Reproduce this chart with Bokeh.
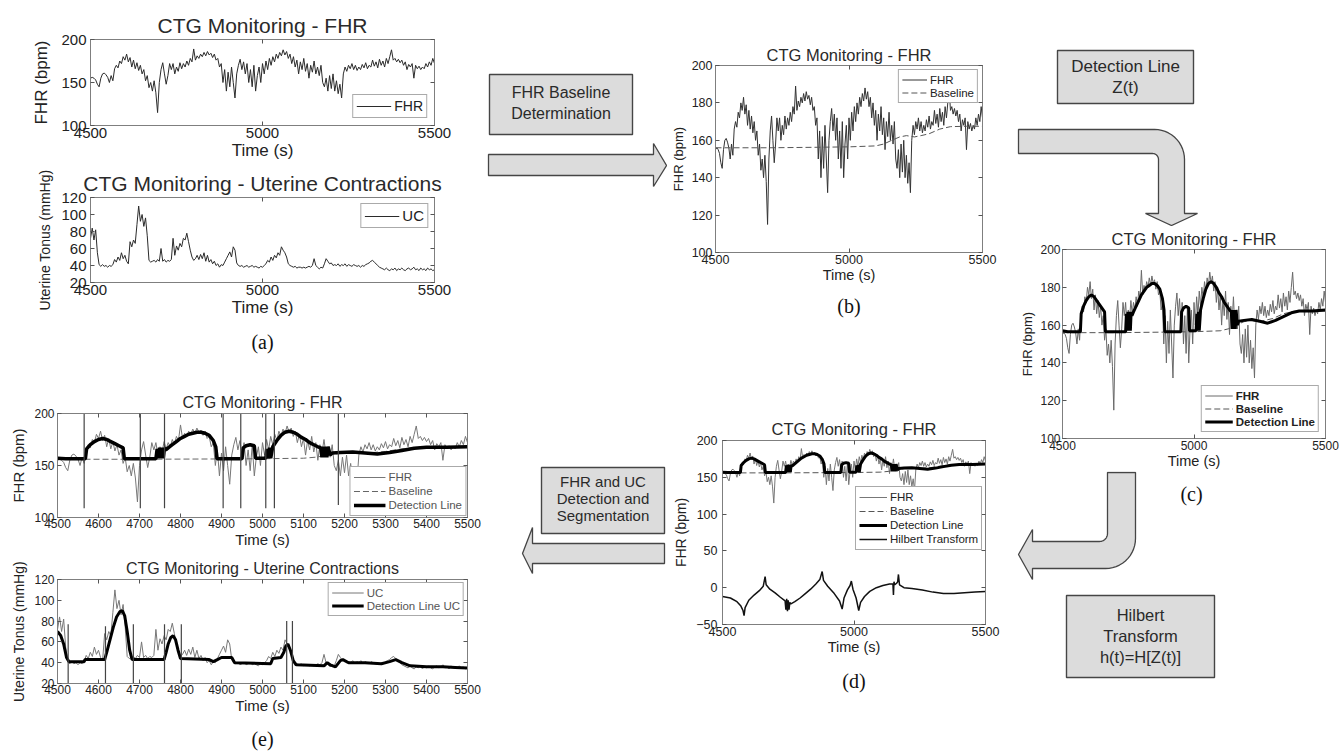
import numpy as np
from bokeh.plotting import figure
from bokeh.models import Range1d, FixedTicker, LinearAxis, Title
from bokeh.layouts import row, column
from bokeh.embed import file_html
from bokeh.resources import INLINE
from bokeh.core.properties import value

FONT = "Liberation Sans"
SERIF = "Liberation Serif"
INK = "#222222"
FRAME = "#7f7f7f"

# ---------------- data ----------------
time_s = list(range(4500, 5501, 5))
fhr_bpm = [
    155, 156, 155, 153, 148, 145, 155, 160, 161, 159,
    156, 150, 158, 152, 166, 170, 167, 175, 172, 180,
    176, 183, 174, 179, 168, 176, 166, 173, 164, 170,
    160, 165, 152, 158, 144, 150, 140, 152, 138, 115,
    150, 165, 173, 160, 148, 158, 172, 165, 172, 160,
    168, 163, 173, 166, 172, 168, 175, 170, 178, 174,
    189, 176, 181, 178, 183, 180, 185, 181, 186, 182,
    184, 179, 183, 176, 178, 168, 172, 150, 165, 140,
    162, 145, 168, 150, 132, 160, 170, 177, 165, 174,
    160, 172, 150, 165, 145, 170, 140, 158, 168, 150,
    172, 160, 175, 165, 178, 170, 180, 174, 183, 178,
    185, 181, 188, 182, 186, 178, 183, 172, 180, 168,
    176, 160, 174, 165, 178, 163, 172, 155, 170, 162,
    175, 160, 168, 158, 170, 150, 145, 155, 140, 158,
    143, 160, 140, 152, 137, 148, 132, 160, 168, 163,
    170, 166, 172, 165, 170, 164, 168, 165, 171, 167,
    173, 166, 170, 168, 176, 169, 174, 167, 177, 170,
    175, 168, 178, 172, 180, 188, 176, 178, 174, 177,
    173, 176, 170, 174, 165, 171, 168, 172, 155, 170,
    166, 169, 165, 168, 166, 172, 168, 174, 170, 178,
    172]
uc_mmhg = [
    72, 84, 70, 82, 55, 41, 39, 41, 39, 40,
    38, 40, 39, 41, 47, 44, 50, 46, 55, 48,
    52, 45, 42, 68, 62, 70, 66, 88, 110, 92,
    100, 86, 96, 75, 46, 44, 45, 46, 44, 47,
    45, 60, 45, 47, 44, 46, 45, 47, 72, 52,
    63, 58, 66, 62, 72, 70, 78, 68, 58, 50,
    46, 48, 52, 47, 53, 48, 55, 45, 52, 44,
    47, 42, 45, 40, 42, 38, 41, 40, 44, 48,
    52, 56, 50, 62, 58, 43, 40, 39, 40, 38,
    39, 40, 38, 39, 40, 38, 39, 38, 37, 39,
    38, 40, 42, 46, 44, 50, 46, 52, 49, 55,
    52, 62, 58, 55, 50, 42, 40, 39, 38, 39,
    37, 38, 38, 37, 38, 37, 38, 39, 38, 40,
    48, 40, 38, 36, 38, 37, 42, 48, 45, 42,
    43, 40, 41, 40, 42, 39, 41, 40, 42, 39,
    41, 40, 39, 41, 40, 39, 40, 38, 40, 39,
    41, 42, 43, 45, 46, 44, 42, 40, 38, 37,
    36, 35, 37, 35, 34, 36, 35, 37, 34, 36,
    35, 37, 35, 34, 36, 37, 35, 36, 38, 35,
    36, 34, 37, 35, 36, 34, 37, 35, 36, 34,
    35]
baseline_t = [4500, 4700, 4900, 5000, 5100, 5130, 5160, 5190, 5215, 5245, 5270, 5300, 5340, 5380, 5440, 5500]
baseline_bpm = [156, 156, 156.3, 156.5, 157, 158, 160, 161.8, 162.5, 161.8, 162.5, 163.5, 166, 167.3, 167.5, 167.5]
det_t = [4500, 4520, 4568, 4571, 4580, 4590, 4600, 4610, 4620, 4630,
         4640, 4650, 4660, 4663, 4740, 4743, 4746, 4749, 4752, 4755,
         4758, 4761, 4764, 4770, 4780, 4790, 4800, 4810, 4820, 4830,
         4840, 4850, 4860, 4870, 4880, 4886, 4889, 4950, 4953, 4960,
         4970, 4980, 4983, 5008, 5011, 5014, 5017, 5020, 5025, 5035,
         5045, 5055, 5065, 5075, 5085, 5095, 5105, 5115, 5125, 5135,
         5142, 5145, 5148, 5151, 5154, 5157, 5160, 5165, 5170, 5190,
         5220, 5250, 5280, 5310, 5340, 5370, 5400, 5450, 5500]
det_bpm = [157, 156.5, 156.5, 166, 170, 173, 175, 176, 175, 173,
           171, 169, 167, 156.5, 156.5, 166, 157, 167, 157, 167,
           157, 167, 165, 167, 170, 173, 176, 178, 180, 181,
           182, 182, 181, 179, 174, 168, 156.5, 156.5, 167, 169,
           170, 169, 157, 157, 166, 157, 167, 157, 168, 174,
           179, 182, 183, 182, 180, 177, 175, 172, 170, 168,
           167, 158, 168, 158, 168, 158, 168, 160, 162, 162.5,
           163, 162, 161, 162.5, 164.5, 166.5, 167.5, 167.5, 168]
hil_t = [4500, 4530, 4555, 4570, 4578, 4582, 4586, 4600, 4620, 4640,
         4655, 4662, 4666, 4680, 4700, 4720, 4738, 4741, 4744, 4747,
         4750, 4753, 4756, 4760, 4775, 4795, 4815, 4835, 4855, 4870,
         4879, 4884, 4900, 4925, 4945, 4955, 4962, 4975, 4985, 4990,
         4996, 5008, 5018, 5025, 5040, 5060, 5085, 5110, 5135, 5148,
         5150, 5152, 5155, 5162, 5166, 5169, 5173, 5190, 5220, 5260,
         5300, 5340, 5380, 5420, 5460, 5500]
hil_val = [-12, -14, -19, -25, -31, -38, -27, -17, -10, -4,
           2, 15, 4, -2, -7, -13, -18, -30, -15, -32,
           -17, -30, -20, -22, -19, -14, -8, -2, 5, 11,
           22, 10, 2, -8, -18, -29, -14, -3, 3, 9,
           -2, -14, -31, -20, -12, -5, 0, 3, 5, 5,
           -10, 8, 4, 6, 8, 18, 4, 0, -1, -3,
           -6, -8, -8, -7, -6, -5]
det_uc_t = [4500, 4508, 4515, 4522, 4528, 4565, 4567, 4615, 4620, 4628,
            4636, 4644, 4652, 4658, 4664, 4670, 4676, 4682, 4760, 4765,
            4770, 4776, 4782, 4788, 4794, 4800, 4870, 4880, 4890, 4900,
            4925, 4932, 5020, 5025, 5045, 5052, 5057, 5062, 5068, 5075,
            5082, 5150, 5158, 5165, 5178, 5190, 5196, 5210, 5250, 5290,
            5310, 5325, 5340, 5360, 5400, 5440, 5470, 5500]
det_uc = [70, 66, 58, 45, 41, 41, 43, 43, 50, 62,
          74, 84, 89, 90, 85, 70, 52, 43, 43, 50,
          58, 64, 66, 62, 52, 44, 43, 41, 43, 45,
          45, 40, 39, 44, 45, 50, 56, 58, 52, 42,
          38, 37, 40, 38, 36, 42, 43, 40, 40, 39,
          41, 43, 40, 37, 36, 36, 35.5, 35]
seg_fhr_t = [4565, 4702, 4761, 4904, 4947, 5008, 5029, 5185]
seg_fhr_lo = [109, 109, 109, 109, 109, 109, 109, 112]
seg_fhr_hi = [200, 200, 200, 200, 200, 200, 200, 200]
seg_uc_t = [4526, 4617, 4685, 4761, 4802, 5059, 5073]
seg_uc_lo = [20, 20, 20, 20, 20, 20, 20]
seg_uc_hi = [77, 75, 77, 77, 77, 80, 80]

ticks_coarse = [4500, 5000, 5500]
ticks_fine = [4500, 4600, 4700, 4800, 4900, 5000, 5100, 5200, 5300, 5400, 5500]
fhr_ticks_a = [100, 150, 200]
fhr_ticks_b = [100, 120, 140, 160, 180, 200]
fhr_ticks_d = [-50, 0, 50, 100, 150, 200]
uc_ticks = [20, 40, 60, 80, 100, 120]


# ---------------- helpers ----------------
def style_axis(ax, ticks, size, standoff, label, lsize, lstand):
    ax.ticker = FixedTicker(ticks=ticks)
    ax.major_tick_in = 4
    ax.major_tick_out = 0
    ax.major_tick_line_color = "#555555"
    ax.minor_tick_line_color = None
    ax.axis_line_color = FRAME
    ax.major_label_text_font = FONT
    ax.major_label_text_font_size = size
    ax.major_label_text_color = INK
    ax.major_label_standoff = standoff
    ax.axis_label = label
    ax.axis_label_text_font = FONT
    ax.axis_label_text_font_size = lsize
    ax.axis_label_text_font_style = "normal"
    ax.axis_label_text_color = INK
    ax.axis_label_standoff = lstand


def panel(box, frame, yr, xticks, yticks, title, tsize, tstand,
          ksize, xks, xlsize, xls, yks, ylabel, ylsize, yls,
          caption=None, cstand=0):
    ox, oy, w, h = box
    fl, fr, ft, fb = frame
    p = figure(frame_width=fr - fl, frame_height=fb - ft,
               min_border_left=fl - ox, min_border_right=ox + w - fr,
               min_border_top=ft - oy, min_border_bottom=oy + h - fb,
               x_range=Range1d(4500, 5500), y_range=Range1d(*yr),
               toolbar_location=None, output_backend="svg", title=title,
               background_fill_color="white", border_fill_color="white",
               frame_align=False)
    p.title.align = "center"
    p.title.text_font = FONT
    p.title.text_font_size = tsize
    p.title.text_font_style = "normal"
    p.title.text_color = "#2a2a2a"
    p.title.standoff = tstand
    p.xgrid.visible = False
    p.ygrid.visible = False
    p.outline_line_color = FRAME
    style_axis(p.xaxis[0], xticks, ksize, xks, "Time (s)", xlsize, xls)
    style_axis(p.yaxis[0], yticks, ksize, yks, ylabel, ylsize, yls)
    for loc, ticks in (("above", xticks), ("right", yticks)):
        ax = LinearAxis(ticker=FixedTicker(ticks=ticks),
                        major_label_text_font_size="1px",
                        major_label_text_color=None,
                        major_tick_in=4, major_tick_out=0,
                        major_label_standoff=0,
                        minor_tick_line_color=None,
                        axis_line_color=FRAME,
                        major_tick_line_color="#555555")
        p.add_layout(ax, loc)
    if caption:
        cap = Title(text=caption, align="center", text_font=SERIF,
                    text_font_size="20px", text_font_style="normal",
                    text_color="#111111", standoff=cstand)
        p.add_layout(cap, "below")
    return p


def style_legend(p, loc, size, gw, gh, margin=5, pad=3, bold=False,
                 color=INK, spacing=0):
    lg = p.legend[0]
    lg.location = loc
    lg.label_text_font = FONT
    lg.label_text_font_size = size
    lg.label_text_font_style = "bold" if bold else "normal"
    lg.label_text_color = color
    lg.glyph_width = gw
    lg.glyph_height = gh
    lg.label_height = gh
    lg.label_standoff = 3
    lg.padding = pad
    lg.spacing = spacing
    lg.margin = margin
    lg.border_line_color = "#555555"
    lg.border_line_width = 1
    lg.background_fill_color = "white"
    lg.background_fill_alpha = 1.0


def canvas(x0, x1, y0, y1):
    p = figure(frame_width=x1 - x0, frame_height=y1 - y0,
               x_range=Range1d(x0, x1), y_range=Range1d(y1, y0),
               x_axis_location=None, y_axis_location=None,
               min_border=0, toolbar_location=None, output_backend="svg",
               background_fill_color="white", border_fill_color="white",
               frame_align=False)
    p.min_border_left = p.min_border_right = 0
    p.min_border_top = p.min_border_bottom = 0
    p.xgrid.visible = False
    p.ygrid.visible = False
    p.outline_line_color = None
    return p


def arc(cx, cy, r, a0, a1, n=14):
    a = np.radians(np.linspace(a0, a1, n))
    return list(cx + r * np.cos(a)), list(cy + r * np.sin(a))


ARROW_FILL = "#dcdcdc"
ARROW_LINE = "#454545"


def box_with_text(p, l, r, t, b, lines, ys, size):
    p.quad(left=[l], right=[r], top=[t], bottom=[b], fill_color=ARROW_FILL,
           line_color=ARROW_LINE, line_width=1.4)
    cx = (l + r) / 2
    p.text(x=[cx] * len(lines), y=ys, text=lines, text_align="center",
           text_baseline="middle", text_font=value(FONT),
           text_font_size=size, text_color="#2a2a2a")


# ---------------- panel (a) ----------------
a1 = panel((0, 0, 474, 163), (90, 434, 39, 125), (100, 200), ticks_coarse,
           fhr_ticks_a, "CTG Monitoring - FHR", "21px", 6,
           "15px", 2, "17px", 0, 4, "FHR (bpm)", "17px", 7)
a1.line(time_s, fhr_bpm, line_color="#2b2b2b", line_width=1, legend_label="FHR")
style_legend(a1, "bottom_right", "14px", 35, 16, margin=7)

a2 = panel((0, 163, 474, 199), (90, 434, 197, 282), (20, 120), ticks_coarse,
           uc_ticks, "CTG Monitoring - Uterine Contractions", "21px", 6,
           "15px", 2, "17px", 0, 4, "Uterine Tonus (mmHg)", "14px", 5,
           caption="(a)", cstand=19)
a2.line(time_s, uc_mmhg, line_color="#2b2b2b", line_width=1, legend_label="UC")
style_legend(a2, "top_right", "15px", 35, 16, margin=6)

# ---------------- panel (e) ----------------
e1 = panel((0, 362, 486, 193), (57, 467, 413, 517), (100, 200), ticks_fine,
           fhr_ticks_a, "CTG Monitoring - FHR", "16px", 6,
           "12px", 1, "15px", 0, 3, "FHR (bpm)", "15px", 4)
e1.line(time_s, fhr_bpm, line_color="#777777", line_width=1, legend_label="FHR")
e1.line(baseline_t, baseline_bpm, line_color="#666666", line_width=1,
        line_dash="6 3", legend_label="Baseline")
e1.line(det_t, det_bpm, line_color="black", line_width=3.5,
        legend_label="Detection Line")
e1.segment(x0=seg_fhr_t, y0=seg_fhr_lo, x1=seg_fhr_t, y1=seg_fhr_hi,
           line_color="#444444", line_width=1.2)
style_legend(e1, "bottom_right", "11.5px", 32, 14, margin=1, color="#555555")

e2 = panel((0, 555, 486, 201), (57, 467, 578, 682), (20, 120), ticks_fine,
           uc_ticks, "CTG Monitoring - Uterine Contractions", "16px", 5,
           "12px", 1, "15px", 0, 3, "Uterine Tonus (mmHg)", "14px", 4,
           caption="(e)", cstand=19)
e2.line(time_s, uc_mmhg, line_color="#777777", line_width=1, legend_label="UC")
e2.line(det_uc_t, det_uc, line_color="black", line_width=3,
        legend_label="Detection Line UC")
e2.segment(x0=seg_uc_t, y0=seg_uc_lo, x1=seg_uc_t, y1=seg_uc_hi,
           line_color="#444444", line_width=1.2)
style_legend(e2, "top_right", "11.5px", 32, 13, margin=3, color="#555555")

# ---------------- panel (b) ----------------
fb = panel((667, 0, 333, 330), (710, 977, 65, 252), (100, 200), ticks_coarse,
           fhr_ticks_b, "CTG Monitoring - FHR", "16.5px", 4,
           "12.5px", 2, "14.5px", 0, 3, "FHR (bpm)", "13px", 3,
           caption="(b)", cstand=15)
fb.line(time_s, fhr_bpm, line_color="#333333", line_width=1, legend_label="FHR")
fb.line(baseline_t, baseline_bpm, line_color="#555555", line_width=1,
        line_dash="6 3", legend_label="Baseline")
style_legend(fb, "top_right", "11.5px", 25, 13, margin=4)

# ---------------- panel (d) ----------------
fd = panel((670, 330, 330, 426), (718, 981, 440, 624), (-50, 200), ticks_coarse,
           fhr_ticks_d, "CTG Monitoring - FHR", "16.5px", 5,
           "12.5px", 2, "14.5px", 0, 5, "FHR (bpm)", "14px", 4,
           caption="(d)", cstand=20)
fd.line(time_s, fhr_bpm, line_color="#777777", line_width=1, legend_label="FHR")
fd.line(baseline_t, baseline_bpm, line_color="#555555", line_width=1,
        line_dash="6 3", legend_label="Baseline")
fd.line(det_t, det_bpm, line_color="black", line_width=3,
        legend_label="Detection Line")
fd.line(hil_t, hil_val, line_color="#111111", line_width=1.5,
        legend_label="Hilbert Transform")
style_legend(fd, (133, 74), "11.5px", 28, 14, margin=0)

# ---------------- panel (c) ----------------
fc = panel((1000, 226, 341, 244), (1057, 1320, 248, 437), (100, 200), ticks_coarse,
           fhr_ticks_b, "CTG Monitoring - FHR", "16.5px", 3,
           "12px", 2, "14.5px", 0, 2, "FHR (bpm)", "13px", 2)
fc.line(time_s, fhr_bpm, line_color="#6a6a6a", line_width=1, legend_label="FHR")
fc.line(baseline_t, baseline_bpm, line_color="#555555", line_width=1,
        line_dash="6 3", legend_label="Baseline")
fc.line(det_t, det_bpm, line_color="black", line_width=3,
        legend_label="Detection Line")
style_legend(fc, "bottom_right", "11.5px", 28, 13, margin=6, bold=True)

# ---------------- arrows and step boxes ----------------
cv1 = canvas(486, 667, 0, 330)
box_with_text(cv1, 489, 632, 74, 134, ["FHR Baseline", "Determination"],
              [92, 113], "16px")
cv1.patch([488, 653, 653, 666, 653, 653, 488],
          [154, 154, 143, 165, 186, 175, 175],
          fill_color=ARROW_FILL, line_color=ARROW_LINE, line_width=1.3)

cv2 = canvas(486, 670, 330, 756)
box_with_text(cv2, 541, 664, 467, 533,
              ["FHR and UC", "Detection and", "Segmentation"],
              [481, 498, 515], "15px")
cv2.patch([664, 532, 532, 522, 532, 532, 664],
          [543, 543, 527, 553, 573, 563, 563],
          fill_color=ARROW_FILL, line_color=ARROW_LINE, line_width=1.3)

cv3 = canvas(1000, 1341, 0, 226)
box_with_text(cv3, 1052, 1188, 50, 103, ["Detection Line", "Z(t)"],
              [66, 87], "17px")
ox1, oy1 = arc(1149, 159, 30, -90, 0)
ix1, iy1 = arc(1147, 159, 6, 0, -90)
xs3 = [1013] + ox1 + [1179, 1192, 1166, 1140, 1153] + ix1 + [1013]
ys3 = [129] + oy1 + [213, 213, 225, 213, 213] + iy1 + [153]
cv3.patch(xs3, ys3, fill_color=ARROW_FILL, line_color=ARROW_LINE, line_width=1.3)

cv4 = canvas(1000, 1341, 470, 756)
ox2, oy2 = arc(1100, 537, 30, 0, 90)
ix2, iy2 = arc(1094, 532, 8, 90, 0)
xs4 = [1102, 1130] + ox2 + [1027, 1027, 1013, 1027, 1027] + ix2 + [1102]
ys4 = [471, 471] + oy2 + [567, 578, 553, 528, 540] + iy2 + [471]
cv4.patch(xs4, ys4, fill_color=ARROW_FILL, line_color=ARROW_LINE, line_width=1.3)
box_with_text(cv4, 1061, 1209, 594, 676,
              ["Hilbert", "Transform", "h(t)=H[Z(t)]"], [613, 634, 655], "16.5px")
cv4.text(x=[1186], y=[492], text=["(c)"], text_align="center",
         text_baseline="middle", text_font=value(SERIF),
         text_font_size="20px", text_color="#111111")

layout = row(
    column(a1, a2, e1, e2),
    column(row(cv1, fb), row(cv2, fd)),
    column(cv3, fc, cv4),
)

with open("out.html", "w") as f:
    f.write(file_html(layout, INLINE, title="CTG processing steps"))
